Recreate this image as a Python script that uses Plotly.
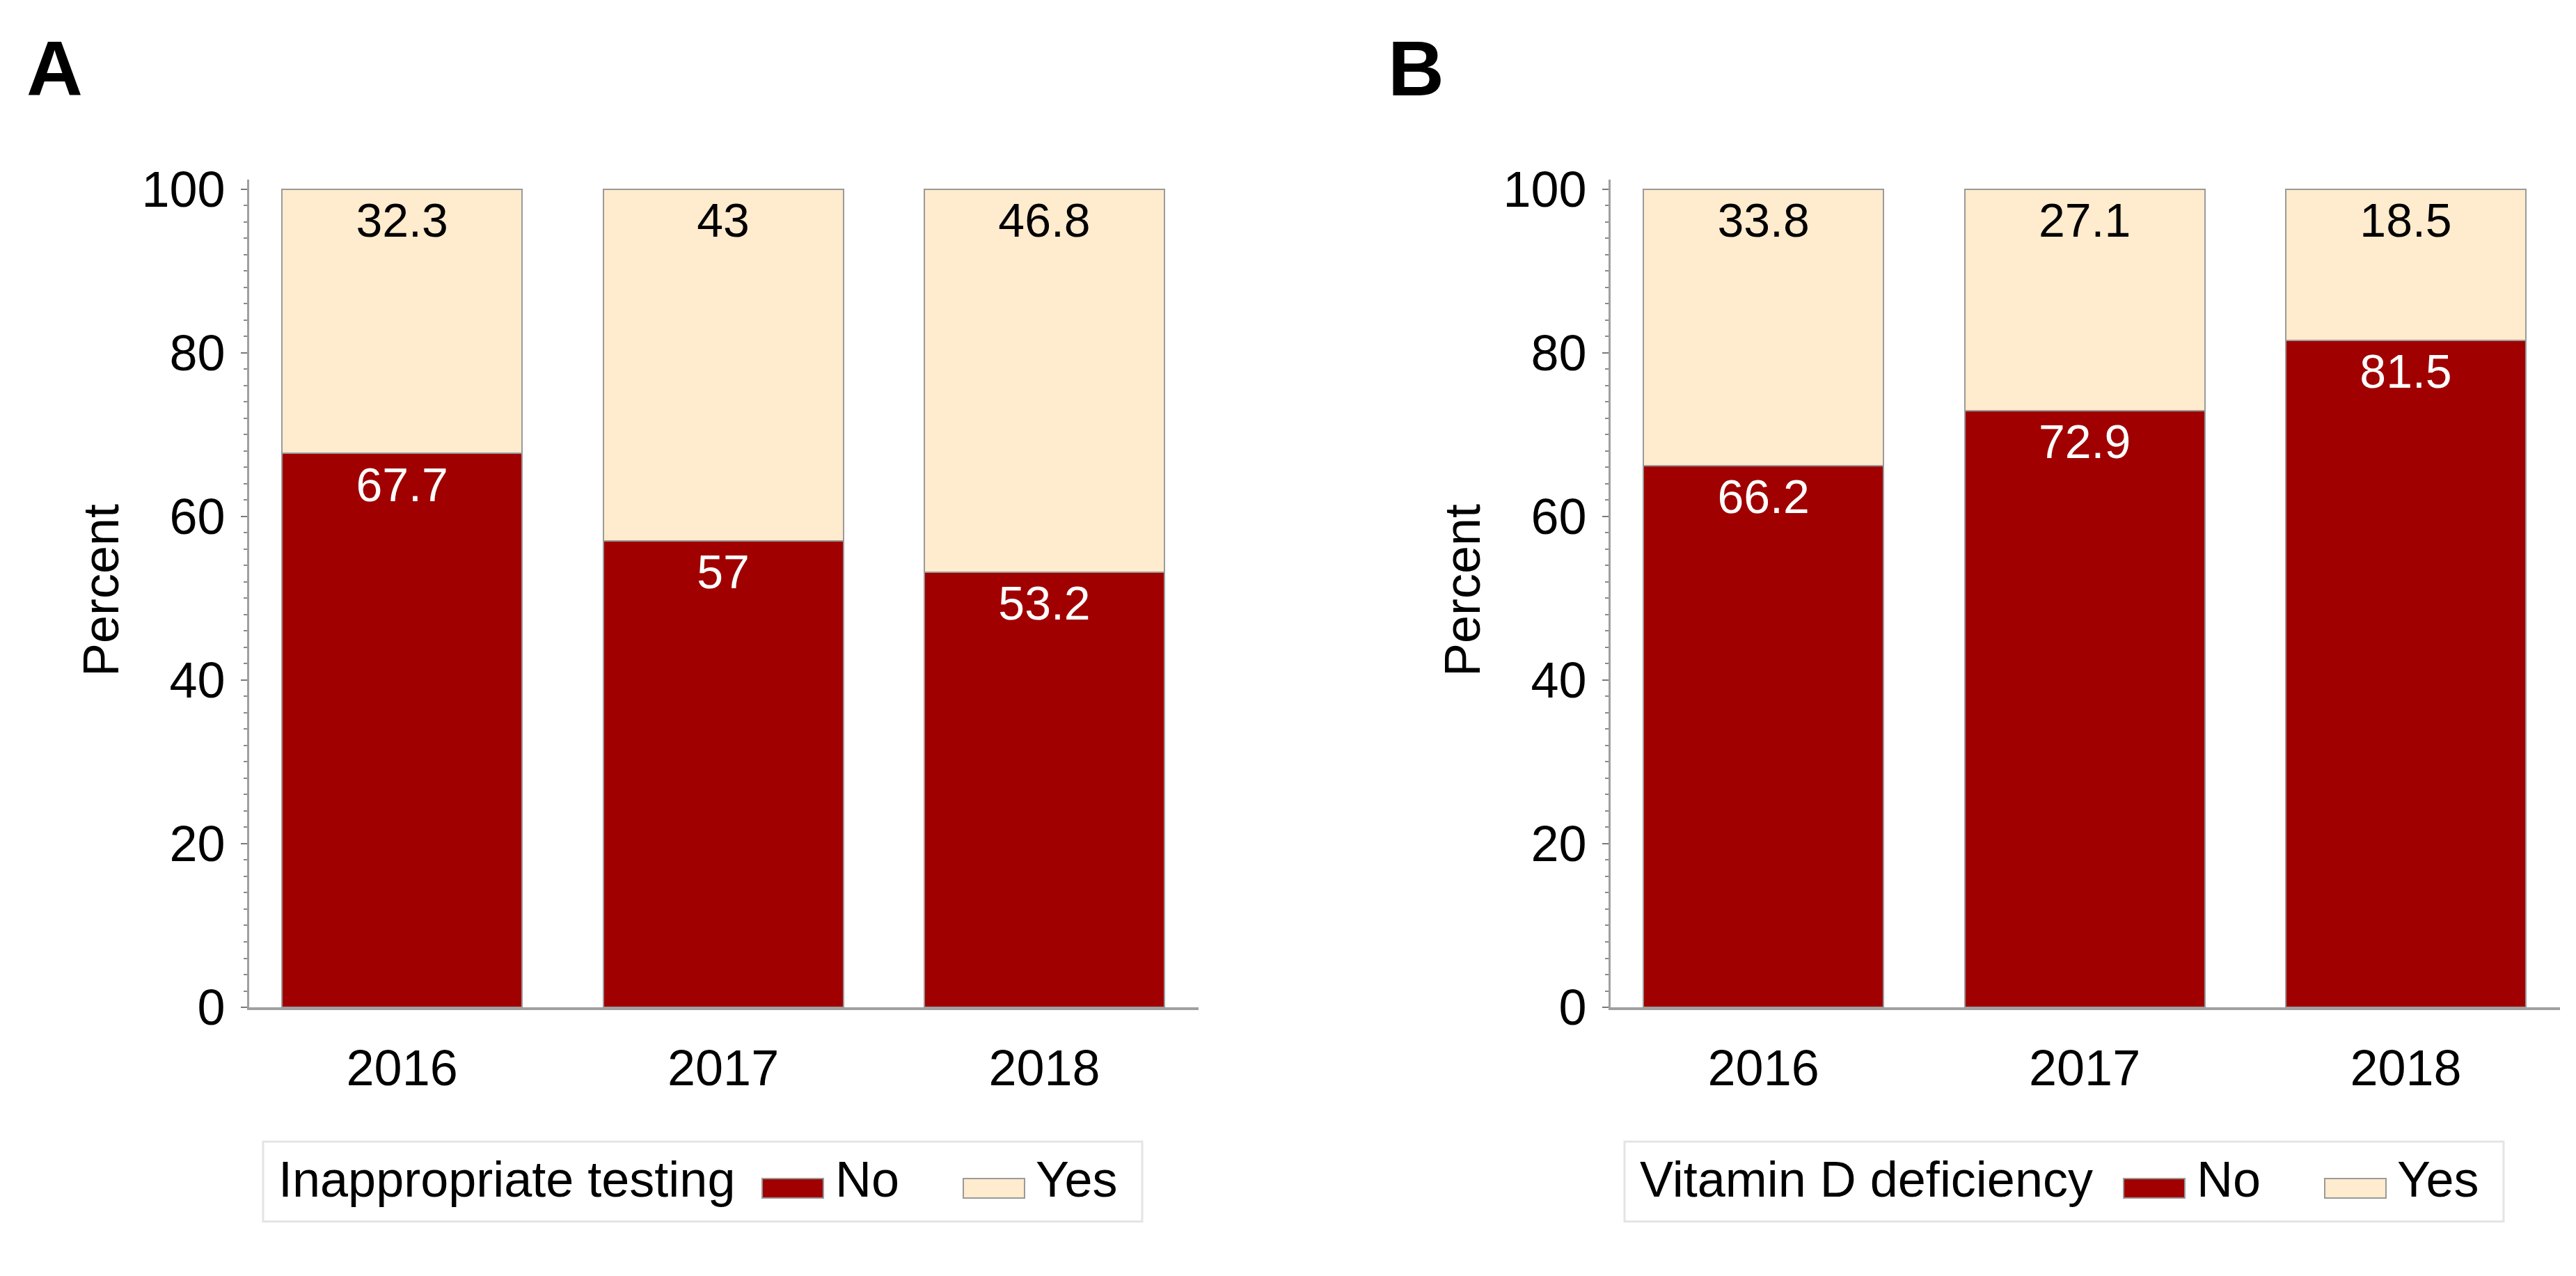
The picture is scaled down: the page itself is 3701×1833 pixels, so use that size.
import plotly.graph_objects as go

# ---------------- data ----------------
years = ["2016", "2017", "2018"]
testing_no = [67.7, 57, 53.2]
testing_yes = [32.3, 43, 46.8]
vitd_no = [66.2, 72.9, 81.5]
vitd_yes = [33.8, 27.1, 18.5]
panel_letters = ["A", "B"]
legend_titles = ["Inappropriate testing", "Vitamin D deficiency"]
series_names = ["No", "Yes"]
y_ticks = [0, 20, 40, 60, 80, 100]
y_title = "Percent"

# ---------------- style ----------------
COLOR_NO = "#A00000"
COLOR_YES = "#FFEBCD"
EDGE = "#9a9a9a"
AXIS = "#a0a0a0"
FONT = "Liberation Sans, Arial, Helvetica, sans-serif"
W, H = 3701, 1833
TICK_SIZE = 72
LABEL_SIZE = 68
LABEL_OFFSET = 4.35  # data units below segment top


def fx(px):
    return px / W


def fy(py):
    return 1 - py / H


def fmt(v):
    return f"{v:g}"


fig = go.Figure()

panels = [
    (testing_no, testing_yes, "x", "y"),
    (vitd_no, vitd_yes, "x2", "y2"),
]

for no_vals, yes_vals, xa, ya in panels:
    fig.add_trace(go.Bar(
        x=years, y=no_vals, name=series_names[0], xaxis=xa, yaxis=ya,
        marker=dict(color=COLOR_NO, line=dict(color=EDGE, width=2)),
        showlegend=False, hoverinfo="skip",
    ))
    fig.add_trace(go.Bar(
        x=years, y=yes_vals, name=series_names[1], xaxis=xa, yaxis=ya,
        marker=dict(color=COLOR_YES, line=dict(color=EDGE, width=2)),
        showlegend=False, hoverinfo="skip",
    ))
    tops_no = list(no_vals)
    tops_yes = [n + y for n, y in zip(no_vals, yes_vals)]
    fig.add_trace(go.Scatter(
        x=years, y=[t - LABEL_OFFSET for t in tops_no], xaxis=xa, yaxis=ya,
        mode="text", text=[fmt(v) for v in no_vals],
        textposition="middle center",
        textfont=dict(family=FONT, size=LABEL_SIZE, color="white"),
        showlegend=False, hoverinfo="skip",
    ))
    fig.add_trace(go.Scatter(
        x=years, y=[t - LABEL_OFFSET for t in tops_yes], xaxis=xa, yaxis=ya,
        mode="text", text=[fmt(v) for v in yes_vals],
        textposition="middle center",
        textfont=dict(family=FONT, size=LABEL_SIZE, color="black"),
        showlegend=False, hoverinfo="skip",
    ))

PANEL_DX = 1956
x_dom_a = [fx(350), fx(1714)]
x_dom_b = [fx(350 + PANEL_DX), fx(1714 + PANEL_DX)]
y_dom = [fy(1466), fy(233)]

xaxis_common = dict(
    type="category", range=[-0.476, 2.48], showline=True, linecolor=AXIS,
    linewidth=4, ticks="", showgrid=False, zeroline=False,
    tickfont=dict(family=FONT, size=TICK_SIZE, color="black"),
    ticklabelstandoff=22, fixedrange=True,
)
yaxis_common = dict(
    range=[0, 101.2], tickvals=y_ticks, ticks="outside", ticklen=9,
    tickwidth=2, tickcolor="#7a7a7a", showline=True, linecolor=AXIS,
    linewidth=3, showgrid=False, zeroline=False,
    minor=dict(dtick=2, ticks="outside", ticklen=5, tickwidth=2,
               tickcolor="#8a8a8a", showgrid=False),
    tickfont=dict(family=FONT, size=TICK_SIZE, color="black"),
    ticklabelstandoff=8, fixedrange=True,
)

fig.update_layout(
    width=W, height=H,
    margin=dict(l=0, r=0, t=0, b=0),
    paper_bgcolor="white", plot_bgcolor="white",
    barmode="stack", bargap=0.2524,
    showlegend=False,
    xaxis=dict(domain=x_dom_a, anchor="y", **xaxis_common),
    yaxis=dict(domain=y_dom, anchor="x", **yaxis_common),
    xaxis2=dict(domain=x_dom_b, anchor="y2", **xaxis_common),
    yaxis2=dict(domain=y_dom, anchor="x2", **yaxis_common),
)

annotations = []
shapes = []
for i, (letter, ltitle) in enumerate(zip(panel_letters, legend_titles)):
    dx = i * PANEL_DX
    # panel letter
    annotations.append(dict(
        text=f"<b>{letter}</b>", x=fx(70 + dx), y=fy(68), xref="paper",
        yref="paper", xanchor="center", yanchor="middle", showarrow=False,
        font=dict(family=FONT, size=112, color="black"),
    ))
    # y axis title
    annotations.append(dict(
        text=y_title, x=fx(137 + dx), y=fy(845), xref="paper", yref="paper",
        xanchor="center", yanchor="middle", showarrow=False, textangle=-90,
        font=dict(family=FONT, size=TICK_SIZE, color="black"),
    ))
    # legend box
    shapes.append(dict(
        type="rect", xref="paper", yref="paper",
        x0=fx(370 + dx), x1=fx(1633 + dx), y0=fy(1785), y1=fy(1666),
        line=dict(color="#e4e4e4", width=3), fillcolor="white", layer="below",
    ))
    annotations.append(dict(
        text=ltitle, x=fx(390 + dx), y=fy(1722), xref="paper", yref="paper",
        xanchor="left", yanchor="middle", showarrow=False,
        font=dict(family=FONT, size=TICK_SIZE, color="black"),
    ))
    for name, color, sx0, tx in [
        (series_names[0], COLOR_NO, 1087, 1190),
        (series_names[1], COLOR_YES, 1376, 1478),
    ]:
        shapes.append(dict(
            type="rect", xref="paper", yref="paper",
            x0=fx(sx0 + dx), x1=fx(sx0 + 88 + dx), y0=fy(1750), y1=fy(1721),
            line=dict(color=EDGE, width=2), fillcolor=color,
        ))
        annotations.append(dict(
            text=name, x=fx(tx + dx), y=fy(1722), xref="paper", yref="paper",
            xanchor="left", yanchor="middle", showarrow=False,
            font=dict(family=FONT, size=TICK_SIZE, color="black"),
        ))

fig.update_layout(annotations=annotations, shapes=shapes)

fig.write_html("out.html")
